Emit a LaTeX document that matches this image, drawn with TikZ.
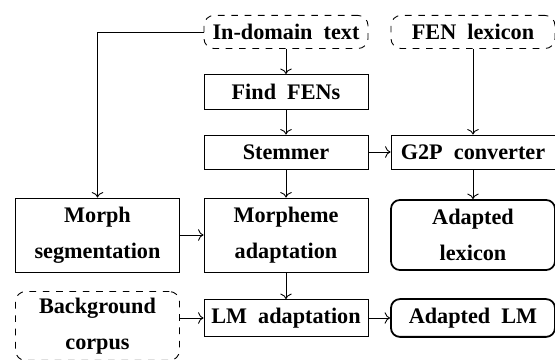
\documentclass[tikz,border=0pt]{standalone}
\usepackage{fontspec}
\setmainfont{Liberation Serif}
\usepackage{tikz}
\usetikzlibrary{arrows.meta}

\begin{document}
\begin{tikzpicture}[x=0.45pt,y=-0.45pt,
		box/.style={draw,rectangle,minimum width=73.8pt,inner sep=0pt,align=center,font=\bfseries},
		data/.style={box,dashed,rounded corners=4.5pt},
		result/.style={box,thick,rounded corners=4pt}]
		\useasboundingbox (0,0) rectangle (555,360);
		% inputs
		\node[data,minimum height=14.9pt] (indomain) at (286,32) {In-domain\ \ text};
		\node[data,minimum height=14.9pt] (fenlex) at (473,32) {FEN\ \ lexicon};
		\node[data,minimum height=31pt] (bgcorpus) at (97.5,326) {Background\\[4pt]corpus};
		
		% processing steps
		\node[box,minimum height=15.75pt] (findfen) at (286,92) {Find\ \ FENs};
		\node[box,minimum height=15.3pt] (stemmer) at (286,152) {Stemmer};
		\node[box,minimum height=15.3pt] (gtop) at (473,152) {G2P\ \ converter};
		\node[box,minimum height=33.3pt] (morphseg) at (97.5,235) {Morph\\[4pt]segmentation};
		\node[box,minimum height=33.3pt] (morphadapt) at (286,235) {Morpheme\\[4pt]adaptation};
		\node[box,minimum height=16.6pt] (lmadapt) at (286,318) {LM\ \ adaptation};
		
		% outputs
		\node[result,minimum height=31.5pt] (adlex) at (473,235) {Adapted\\[4pt]lexicon};
		\node[result,minimum height=17pt] (adlm) at (473,318) {Adapted\ \ LM};
		
		\draw[->] (indomain) -- (findfen);
		\draw[->] (findfen) -- (stemmer);
		\draw[->] (stemmer) -- (morphadapt);
		\draw[->] (morphadapt) -- (lmadapt);
		\draw[->] (stemmer) -- (gtop);
		\draw[->] (fenlex) -- (gtop);
		\draw[->] (gtop) -- (adlex);
		\draw[->] (indomain.west) -| (morphseg.north);
		\draw[->] (morphseg) -- (morphadapt);
		\draw[->] (bgcorpus.east |- lmadapt.west) -- (lmadapt.west);
		\draw[->] (lmadapt) -- (adlm);
	\end{tikzpicture}
\end{document}
